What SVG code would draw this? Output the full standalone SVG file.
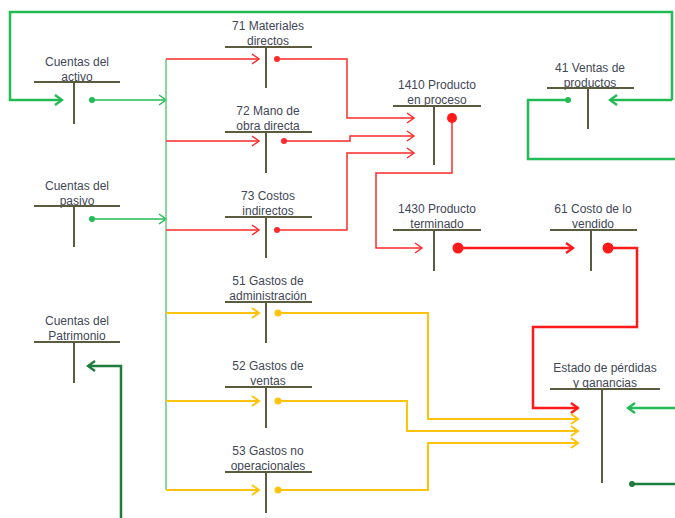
<svg xmlns="http://www.w3.org/2000/svg" width="675" height="518" viewBox="0 0 675 518">
<style>
  text { font-family: "Liberation Sans", Arial, sans-serif; font-size: 12px; fill: #3f4756; text-anchor: middle; }
  .bar { stroke: #5b5b40; stroke-width: 2; fill: none; }
  .c { fill: none; stroke-linejoin: miter; }
  .r { stroke: #ff2a2a; stroke-width: 1.5; }
  .rt { stroke: #ff1a1a; stroke-width: 2.5; }
  .y { stroke: #ffc20e; stroke-width: 2; }
  .g { stroke: #22bb55; stroke-width: 1.5; }
  .gt { stroke: #22bb55; stroke-width: 2.5; }
  .gl { stroke: #66cc80; stroke-width: 1.5; }
  .gd { stroke: #1e7d3d; stroke-width: 2.5; }
</style>
<defs>
  <marker id="aR" viewBox="-8 -6 10 12" markerWidth="10" markerHeight="12" refX="0" refY="0" orient="auto" markerUnits="userSpaceOnUse"><path d="M-7,-5 L0,0 L-7,5" fill="none" stroke="#ff2a2a" stroke-width="1.5"/></marker>
  <marker id="aY" viewBox="-8 -6 10 12" markerWidth="10" markerHeight="12" refX="0" refY="0" orient="auto" markerUnits="userSpaceOnUse"><path d="M-7,-5 L0,0 L-7,5" fill="none" stroke="#ffc20e" stroke-width="2"/></marker>
  <marker id="aG" viewBox="-8 -6 10 12" markerWidth="10" markerHeight="12" refX="0" refY="0" orient="auto" markerUnits="userSpaceOnUse"><path d="M-7,-5 L0,0 L-7,5" fill="none" stroke="#22bb55" stroke-width="1.5"/></marker>
  <marker id="aGT" viewBox="-9 -7 11 14" markerWidth="11" markerHeight="14" refX="0" refY="0" orient="auto" markerUnits="userSpaceOnUse"><path d="M-7,-5 L0,0 L-7,5" fill="none" stroke="#22bb55" stroke-width="2.5"/></marker>
  <marker id="aRT" viewBox="-9 -7 11 14" markerWidth="11" markerHeight="14" refX="0" refY="0" orient="auto" markerUnits="userSpaceOnUse"><path d="M-7,-5 L0,0 L-7,5" fill="none" stroke="#ff1a1a" stroke-width="2.5"/></marker>
  <marker id="aGD" viewBox="-9 -7 11 14" markerWidth="11" markerHeight="14" refX="0" refY="0" orient="auto" markerUnits="userSpaceOnUse"><path d="M-7,-5 L0,0 L-7,5" fill="none" stroke="#1e7d3d" stroke-width="2.5"/></marker>
</defs>

<g id="connectors">
  <!-- green -->
  <path class="c gt" d="M672,100 L672,12 L10,12 L10,100 L62,100" marker-end="url(#aGT)"/>
  <path class="c gt" d="M672,100 L610,100" marker-end="url(#aGT)"/>
  <path class="c gt" d="M568,100 L528,100 L528,159 L675,159"/>
  <circle cx="568" cy="100" r="3" fill="#22bb55"/>
  <path class="c g" d="M92,100 L166,100" marker-end="url(#aG)"/>
  <circle cx="92" cy="100" r="3" fill="#22bb55"/>
  <path class="c g" d="M92,219 L166,219" marker-end="url(#aG)"/>
  <circle cx="92" cy="219" r="3" fill="#22bb55"/>
  <path class="c gl" d="M166,59 L166,490"/>
  <!-- red branches -->
  <path class="c r" d="M166,59 L259,59" marker-end="url(#aR)"/>
  <path class="c r" d="M166,141 L259,141" marker-end="url(#aR)"/>
  <path class="c r" d="M166,230 L259,230" marker-end="url(#aR)"/>
  <!-- yellow branches -->
  <path class="c y" d="M166,313 L259,313" marker-end="url(#aY)"/>
  <path class="c y" d="M166,401 L259,401" marker-end="url(#aY)"/>
  <path class="c y" d="M166,490 L259,490" marker-end="url(#aY)"/>
  <!-- red to 1410 -->
  <path class="c r" d="M277,59 L347,59 L347,118 L414,118" marker-end="url(#aR)"/>
  <circle cx="277" cy="59" r="3" fill="#ff2a2a"/>
  <path class="c r" d="M284,141 L350,141 L350,136 L414,136" marker-end="url(#aR)"/>
  <circle cx="284" cy="141" r="3" fill="#ff2a2a"/>
  <path class="c r" d="M277,230 L347,230 L347,153 L414,153" marker-end="url(#aR)"/>
  <circle cx="277" cy="230" r="3" fill="#ff2a2a"/>
  <!-- 1410 to 1430 -->
  <path class="c r" d="M452,118 L452,173 L376,173 L376,248 L422,248" marker-end="url(#aR)"/>
  <circle cx="452" cy="118" r="5" fill="#ff1a1a"/>
  <!-- 1430 to 61 -->
  <path class="c rt" d="M458,248 L573,248" marker-end="url(#aRT)"/>
  <circle cx="458" cy="248" r="5.5" fill="#ff1a1a"/>
  <!-- 61 to Estado -->
  <path class="c rt" d="M608,248 L637,248 L637,327 L533,327 L533,408 L578,408" marker-end="url(#aRT)"/>
  <circle cx="608" cy="248" r="5.5" fill="#ff1a1a"/>
  <!-- yellow to Estado -->
  <path class="c y" d="M278,313 L428,313 L428,419 L578,419" marker-end="url(#aY)"/>
  <circle cx="278" cy="313" r="3.5" fill="#ffc20e"/>
  <path class="c y" d="M278,401 L407,401 L407,431 L578,431" marker-end="url(#aY)"/>
  <circle cx="278" cy="401" r="3.5" fill="#ffc20e"/>
  <path class="c y" d="M278,490 L428,490 L428,443 L578,443" marker-end="url(#aY)"/>
  <circle cx="278" cy="490" r="3.5" fill="#ffc20e"/>
  <!-- green into Estado -->
  <path class="c gt" d="M675,408 L628,408" marker-end="url(#aGT)"/>
  <!-- dark green -->
  <path class="c gd" d="M632,484 L675,484"/>
  <circle cx="632" cy="484" r="3" fill="#1e7d3d"/>
  <path class="c gd" d="M121,518 L121,366 L88,366" marker-end="url(#aGD)"/>
</g>

<g id="activo">
  <text x="77" y="66">Cuentas del</text><text x="77" y="81">activo</text>
  <path class="bar" d="M34,82 L120,82 M74,82 L74,124"/>
</g>
<g id="pasivo">
  <text x="77" y="190">Cuentas del</text><text x="77" y="205">pasivo</text>
  <path class="bar" d="M34,206 L120,206 M74,206 L74,247"/>
</g>
<g id="patrimonio">
  <text x="77" y="325">Cuentas del</text><text x="77" y="340">Patrimonio</text>
  <path class="bar" d="M34,342 L120,342 M74,342 L74,383"/>
</g>
<g id="c71">
  <text x="268" y="30">71 Materiales</text><text x="268" y="45">directos</text>
  <path class="bar" d="M225,47 L312,47 M266,47 L266,88"/>
</g>
<g id="c72">
  <text x="268" y="115">72 Mano de</text><text x="268" y="130">obra directa</text>
  <path class="bar" d="M225,132 L312,132 M266,132 L266,173"/>
</g>
<g id="c73">
  <text x="268" y="200">73 Costos</text><text x="268" y="215">indirectos</text>
  <path class="bar" d="M225,217 L312,217 M266,217 L266,258"/>
</g>
<g id="c51">
  <text x="268" y="285">51 Gastos de</text><text x="268" y="300">administración</text>
  <path class="bar" d="M225,302 L312,302 M266,302 L266,343"/>
</g>
<g id="c52">
  <text x="268" y="370">52 Gastos de</text><text x="268" y="385">ventas</text>
  <path class="bar" d="M225,387 L312,387 M266,387 L266,428"/>
</g>
<g id="c53">
  <text x="268" y="455">53 Gastos no</text><text x="268" y="470">operacionales</text>
  <path class="bar" d="M225,472 L312,472 M266,472 L266,513"/>
</g>
<g id="c1410">
  <text x="437" y="89">1410 Producto</text><text x="437" y="104">en proceso</text>
  <path class="bar" d="M393,106 L481,106 M434,106 L434,165"/>
</g>
<g id="c41">
  <text x="590" y="72">41 Ventas de</text><text x="590" y="87">productos</text>
  <path class="bar" d="M547,88 L634,88 M588,88 L588,129"/>
</g>
<g id="c1430">
  <text x="437" y="213">1430 Producto</text><text x="437" y="228">terminado</text>
  <path class="bar" d="M393,230 L481,230 M434,230 L434,271"/>
</g>
<g id="c61">
  <text x="593" y="213">61 Costo de lo</text><text x="593" y="228">vendido</text>
  <path class="bar" d="M550,230 L637,230 M591,230 L591,271"/>
</g>
<g id="estado">
  <text x="605" y="372">Estado  de pérdidas</text><text x="605" y="387">y ganancias</text>
  <path class="bar" d="M550,389 L660,389 M602,389 L602,483"/>
</g>
</svg>
